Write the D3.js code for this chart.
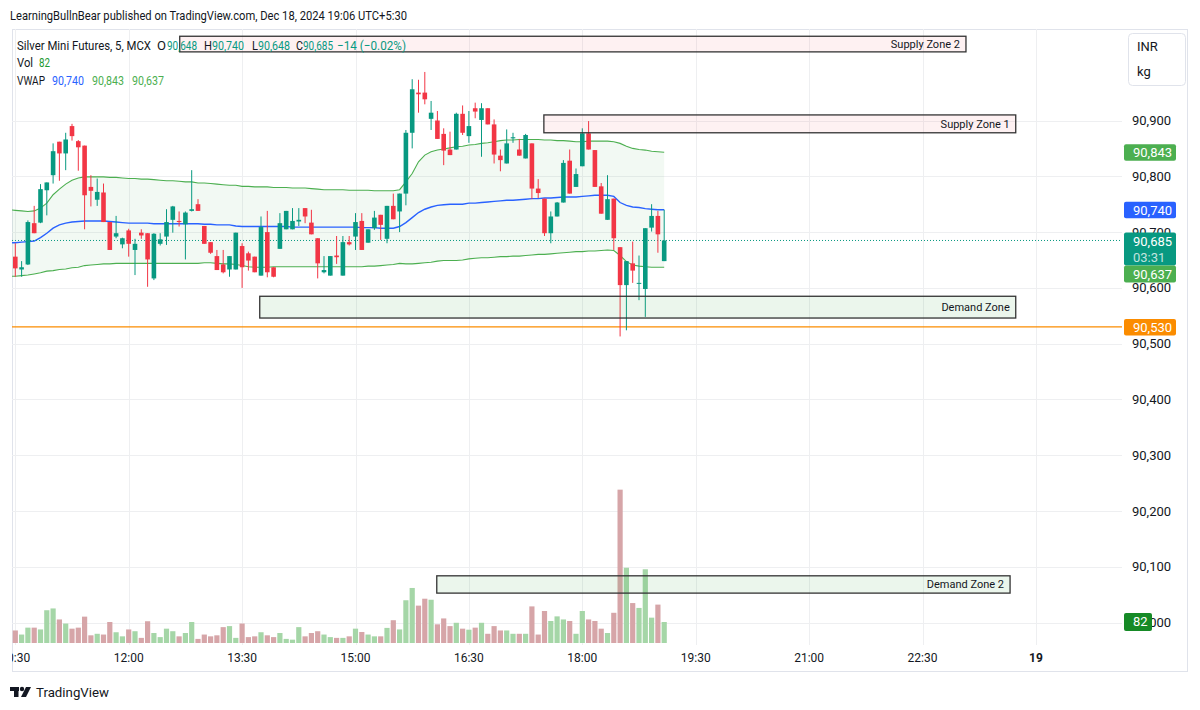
<!DOCTYPE html>
<html>
<head>
<meta charset="utf-8">
<script src="https://cdnjs.cloudflare.com/ajax/libs/d3/7.8.5/d3.min.js"></script>
<style>
    body { margin: 0; background: #fff; }
    svg { display: block; font-family: Roboto, "Noto Sans", sans-serif; }
</style>
</head>
<body>
<svg id="chart" width="1200" height="710"></svg>
<script>
// ---- data (5 min bars, Dec 18 2024, first bar = 10:30) ----
var open  = [90656,90633,90642,90716,90717,90775,90802,90862,90841,90890,90863,90855,90781,90758,90771,90718,90692,90678,90703,90668,
             90699,90698,90617,90679,90692,90722,90720,90714,90738,90750,90711,90682,90657,90642,90633,90633,90675,90662,90656,90622,
             90700,90637,90670,90705,90705,90719,90743,90717,90689,90628,90622,90658,90622,90682,90692,90720,90681,90707,90731,90688,
             90747,90737,90769,90878,90950,90950,90903,90900,90876,90848,90848,90912,90872,90922,90901,90922,90893,90837,90823,90868,
             90848,90832,90859,90778,90760,90698,90728,90753,90828,90781,90818,90877,90847,90782,90722,90760,90673,90605,90644,90608,
             90598,90708,90729,90648];
var high  = [90680,90648,90721,90747,90786,90789,90859,90862,90878,90894,90865,90855,90802,90796,90787,90718,90729,90690,90706,90688,
             90705,90698,90698,90698,90741,90747,90737,90737,90811,90759,90711,90682,90668,90668,90657,90699,90680,90665,90656,90728,
             90738,90637,90734,90738,90743,90743,90743,90740,90689,90657,90657,90693,90693,90693,90734,90734,90705,90738,90731,90747,
             90769,90769,90883,90974,90973,90987,90935,90917,90886,90880,90914,90927,90917,90932,90931,90922,90902,90848,90884,90878,
             90867,90876,90859,90795,90760,90737,90754,90829,90848,90814,90886,90899,90847,90788,90802,90760,90673,90648,90683,90658,
             90707,90750,90738,90740];
var low   = [90620,90620,90641,90698,90716,90730,90787,90792,90811,90864,90810,90705,90746,90747,90718,90668,90689,90671,90656,90623,
             90688,90602,90614,90676,90677,90699,90710,90651,90737,90738,90679,90661,90632,90626,90620,90633,90600,90631,90628,90622,
             90619,90619,90670,90705,90705,90711,90716,90696,90617,90626,90622,90643,90622,90676,90668,90668,90681,90704,90686,90680,
             90723,90700,90748,90850,90914,90929,90883,90867,90820,90838,90848,90874,90860,90904,90835,90893,90823,90809,90823,90860,
             90837,90832,90759,90761,90693,90680,90728,90753,90769,90781,90818,90848,90781,90733,90722,90668,90513,90524,90609,90578,
             90548,90701,90663,90648];
var close = [90635,90637,90718,90698,90777,90789,90845,90841,90866,90872,90852,90766,90774,90772,90718,90668,90698,90689,90679,90679,
             90694,90651,90697,90687,90718,90746,90718,90735,90741,90738,90679,90663,90632,90628,90657,90699,90637,90649,90628,90709,
             90628,90620,90716,90738,90720,90722,90728,90696,90644,90632,90657,90655,90682,90678,90718,90668,90705,90726,90713,90747,
             90723,90769,90878,90956,90947,90938,90914,90867,90846,90838,90912,90878,90890,90916,90922,90893,90839,90829,90859,90870,
             90837,90874,90778,90770,90698,90728,90753,90824,90769,90804,90877,90848,90781,90733,90759,90689,90605,90648,90631,90609,
             90707,90729,90696,90685];
var volume = [49,33,60,60,53,128,135,92,76,56,60,103,30,36,33,82,42,26,53,46,
              20,85,39,23,56,46,26,39,82,16,33,26,30,62,66,20,76,23,26,42,
              30,23,39,16,13,62,26,39,46,33,23,20,20,26,56,43,33,26,26,59,
              89,53,167,215,146,173,169,73,96,66,79,56,52,60,79,36,66,49,49,36,
              36,36,143,33,125,86,104,92,86,36,125,92,86,56,39,118,599,294,156,137,
              288,99,150,82];

// VWAP and bands, starting one bar before the first candle (10:25)
var vwap  = [90681,90681,90682,90683,90684,90690,90698,90707,90713,90716,90718,90719,90720,90720,90720,90720,90719,90718,90717,90716,90716,
             90716,90716,90715,90715,90715,90715,90715,90715,90715,90715,90714,90714,90713,90713,90713,90711,90710,90710,90710,90710,
             90710,90710,90710,90710,90709,90709,90709,90709,90709,90709,90709,90709,90709,90709,90709,90708,90708,90708,90707,90707,
             90707,90710,90717,90726,90735,90741,90745,90748,90749,90750,90750,90750,90752,90752,90753,90754,90755,90756,90757,90757,
             90758,90759,90760,90760,90761,90761,90762,90763,90763,90763,90764,90765,90766,90766,90766,90764,90753,90748,90745,90744,
             90742,90741,90740,90740];
var vwapUpper = [90740,90739,90738,90737,90738,90743,90752,90767,90777,90786,90793,90797,90799,90799,90799,90799,90798,90798,90797,90796,90796,
             90795,90795,90794,90793,90792,90792,90791,90790,90790,90788,90788,90787,90786,90785,90784,90784,90782,90782,90781,90781,
             90781,90780,90780,90780,90779,90779,90779,90778,90777,90776,90776,90776,90776,90775,90775,90775,90775,90774,90774,90774,
             90774,90776,90790,90805,90826,90838,90844,90847,90849,90851,90853,90854,90856,90857,90859,90860,90862,90864,90865,90865,
             90866,90866,90866,90866,90865,90865,90864,90864,90863,90862,90862,90863,90863,90863,90863,90862,90859,90854,90850,90848,
             90847,90845,90844,90843];
var vwapLower = [90621,90621,90622,90623,90625,90627,90630,90631,90633,90634,90636,90637,90640,90641,90642,90643,90643,90644,90644,90644,90644,
             90644,90644,90644,90644,90644,90644,90644,90644,90644,90644,90645,90645,90644,90643,90643,90642,90640,90638,90637,90637,
             90637,90638,90638,90638,90638,90638,90638,90638,90638,90638,90638,90638,90638,90638,90638,90638,90639,90639,90640,90641,
             90642,90644,90643,90643,90644,90645,90646,90648,90649,90649,90649,90650,90652,90653,90654,90654,90655,90656,90656,90657,
             90657,90658,90659,90660,90660,90661,90662,90663,90664,90665,90665,90666,90666,90667,90668,90667,90658,90647,90641,90639,
             90638,90637,90637,90637];

var timeTicks  = [0, 18, 36, 54, 72, 90, 108, 126, 144, 162];
var timeLabels = ['10:30', '12:00', '13:30', '15:00', '16:30', '18:00', '19:30', '21:00', '22:30', '19'];
var priceTicks = [90000, 90100, 90200, 90300, 90400, 90500, 90600, 90700, 90800, 90900];

var zoneNames  = ['Supply Zone 2', 'Supply Zone 1', 'Demand Zone', 'Demand Zone 2'];
var zoneKind   = ['supply', 'supply', 'demand', 'demand'];
var zoneTop    = [91051, 90910, 90585, 90084];
var zoneBottom = [91023, 90878, 90546, 90053];
var zoneFrom   = [26.1, 83.9, 38.8, 66.9];
var zoneTo     = [150.9, 158.8, 158.8, 157.9];
var levelLine  = 90530;

// ---- layout ----
var pane = {left: 12, right: 1122, top: 29, bottom: 645};
var UP = '#089981', DOWN = '#f23645';

var svg = d3.select('#chart');
var x = d3.scaleLinear().domain([0, 162]).range([15.3, 1035.9]);
var y = d3.scaleLinear().domain([89960, 91064]).range([pane.bottom, pane.top]);
var yVol = d3.scaleLinear().domain([0, 1000]).range([643, 387]);
var fmt = d3.format(',');

svg.append('rect').attr('width', 1200).attr('height', 710).attr('fill', '#fff');

var defs = svg.append('defs');
defs.append('clipPath').attr('id', 'paneClip')
    .append('rect')
    .attr('x', pane.left).attr('y', pane.top)
    .attr('width', pane.right - pane.left).attr('height', pane.bottom - pane.top);
defs.append('clipPath').attr('id', 'timeClip')
    .append('rect').attr('x', 12).attr('y', 645).attr('width', 1176).attr('height', 27);

// text squeezed to the width it has in the screenshot
function fitText(xx, yy, txt, width, color, size) {
    var t = svg.append('text').attr('x', xx).attr('y', yy)
        .attr('font-size', size || 13).attr('fill', color || '#131722').text(txt);
    if (width) t.attr('textLength', width).attr('lengthAdjust', 'spacingAndGlyphs');
    return t;
}

// header
fitText(10, 20, 'LearningBullnBear published on TradingView.com, Dec 18, 2024 19:06 UTC+5:30', 397);

// frame
svg.append('rect')
    .attr('x', 12.5).attr('y', 29.5).attr('width', 1175).attr('height', 642)
    .attr('fill', 'none').attr('stroke', '#e0e3eb');

var g = svg.append('g').attr('clip-path', 'url(#paneClip)');

// grid
g.selectAll('line.hgrid').data(priceTicks).enter().append('line')
    .attr('class', 'hgrid')
    .attr('x1', pane.left).attr('x2', pane.right)
    .attr('y1', function(d) { return Math.round(y(d)) + 0.5; })
    .attr('y2', function(d) { return Math.round(y(d)) + 0.5; })
    .attr('stroke', '#eeeff1');
g.selectAll('line.vgrid').data(timeTicks).enter().append('line')
    .attr('class', 'vgrid')
    .attr('x1', function(d) { return Math.round(x(d)) + 0.5; })
    .attr('x2', function(d) { return Math.round(x(d)) + 0.5; })
    .attr('y1', pane.top).attr('y2', pane.bottom)
    .attr('stroke', '#eeeff1');

// volume
g.append('g').selectAll('rect').data(volume).enter().append('rect')
    .attr('x', function(d, i) { return x(i) - 2.6; })
    .attr('width', 5.2)
    .attr('y', function(d) { return yVol(d); })
    .attr('height', function(d) { return yVol(0) - yVol(d); })
    .attr('fill', function(d, i) { return close[i] >= open[i] ? '#a5d6a7' : '#d6a5a8'; });

// VWAP band
var vx = function(d, i) { return x(i - 1); };
var band = d3.area().x(vx)
    .y0(function(d, i) { return y(vwapLower[i]); })
    .y1(function(d, i) { return y(vwapUpper[i]); });
g.append('path').datum(vwap).attr('d', band).attr('fill', 'rgba(76,175,80,0.07)');

var line = function(arr) {
    return d3.line().x(vx).y(function(d) { return y(d); })(arr);
};
g.append('path').attr('d', line(vwapUpper)).attr('fill', 'none').attr('stroke', '#4caf50').attr('stroke-width', 1.1);
g.append('path').attr('d', line(vwapLower)).attr('fill', 'none').attr('stroke', '#4caf50').attr('stroke-width', 1.1);
g.append('path').attr('d', line(vwap)).attr('fill', 'none').attr('stroke', '#2962ff').attr('stroke-width', 1.4);

// zones
zoneNames.forEach(function(name, i) {
    var x0 = x(zoneFrom[i]), x1 = x(zoneTo[i]);
    var y0 = y(zoneTop[i]), y1 = y(zoneBottom[i]);
    svg.append('rect')
        .attr('x', x0).attr('y', y0).attr('width', x1 - x0).attr('height', y1 - y0)
        .attr('fill', zoneKind[i] == 'supply' ? 'rgba(242,54,69,0.07)' : 'rgba(76,175,80,0.11)')
        .attr('stroke', '#333').attr('stroke-width', 1.3);
    svg.append('text')
        .attr('x', x1 - 6).attr('y', (y0 + y1) / 2).attr('dy', '0.35em')
        .attr('text-anchor', 'end').attr('font-size', 11).attr('fill', '#131722')
        .text(name);
});

// level line and current price
g.append('line')
    .attr('x1', pane.left).attr('x2', pane.right)
    .attr('y1', y(levelLine)).attr('y2', y(levelLine))
    .attr('stroke', '#fb8c00').attr('stroke-width', 1.2);
var last = close.length - 1;
g.append('line')
    .attr('x1', pane.left).attr('x2', pane.right)
    .attr('y1', y(close[last])).attr('y2', y(close[last]))
    .attr('stroke', UP).attr('stroke-dasharray', '1,2');

// candles
var cg = g.selectAll('g.candle').data(open).enter().append('g').attr('class', 'candle');
cg.append('line')
    .attr('x1', function(d, i) { return x(i); })
    .attr('x2', function(d, i) { return x(i); })
    .attr('y1', function(d, i) { return y(high[i]); })
    .attr('y2', function(d, i) { return y(low[i]); })
    .attr('stroke', function(d, i) { return close[i] >= open[i] ? UP : DOWN; });
cg.append('rect')
    .attr('x', function(d, i) { return x(i) - 2.3; })
    .attr('width', 4.6)
    .attr('y', function(d, i) { return y(Math.max(open[i], close[i])); })
    .attr('height', function(d, i) { return Math.max(1, Math.abs(y(open[i]) - y(close[i]))); })
    .attr('fill', function(d, i) { return close[i] >= open[i] ? UP : DOWN; });

// legend
fitText(17, 50, 'Silver Mini Futures, 5, MCX', 134);
fitText(157, 50, 'O', 9);
fitText(167, 50, fmt(open[last]), 30, UP);
fitText(204, 50, 'H', 8);
fitText(212, 50, fmt(high[last]), 32, UP);
fitText(252, 50, 'L', 6);
fitText(258, 50, fmt(low[last]), 32, UP);
fitText(296, 50, 'C', 7);
fitText(303, 50, fmt(close[last]), 30, UP);
fitText(337, 50, '\u221214 (\u22120.02%)', 69, UP);
fitText(17, 67, 'Vol', 16);
fitText(39, 67, String(volume[last]), 11, '#1e9a32');
fitText(17, 85, 'VWAP', 28);
fitText(52, 85, fmt(vwap[vwap.length - 1]), 32, '#2962ff');
fitText(92, 85, fmt(vwapUpper[vwapUpper.length - 1]), 32, '#4caf50');
fitText(132, 85, fmt(vwapLower[vwapLower.length - 1]), 32, '#4caf50');

// time axis
svg.append('g').attr('clip-path', 'url(#timeClip)')
    .selectAll('text').data(timeTicks).enter().append('text')
    .attr('x', function(d) { return x(d); }).attr('y', 662)
    .attr('text-anchor', 'middle').attr('font-size', 12).attr('fill', '#131722')
    .attr('font-weight', function(d, i) { return timeLabels[i] == '19' ? 'bold' : null; })
    .text(function(d, i) { return timeLabels[i]; });

// price axis
svg.selectAll('text.ptick').data(priceTicks).enter().append('text')
    .attr('class', 'ptick')
    .attr('x', 1132).attr('y', function(d) { return y(d); }).attr('dy', '0.35em')
    .attr('font-size', 13).attr('fill', '#131722')
    .text(function(d) { return fmt(d); });

function priceBox(top, h, w, color, lines) {
    svg.append('rect').attr('x', 1124).attr('y', top).attr('width', w).attr('height', h)
        .attr('rx', 2).attr('fill', color);
    lines.forEach(function(t, k) {
        svg.append('text').attr('x', 1133).attr('y', top + 8.5 + k * 16.5).attr('dy', '0.35em')
            .attr('font-size', 13).attr('fill', k == 0 ? '#fff' : 'rgba(255,255,255,0.75)').text(t);
    });
}
priceBox(y(vwapUpper[vwapUpper.length - 1]) - 8, 16.5, 52, '#4caf50', [fmt(vwapUpper[vwapUpper.length - 1])]);
priceBox(y(vwap[vwap.length - 1]) - 8, 16.5, 52, '#2962ff', [fmt(vwap[vwap.length - 1])]);
var curTop = y(close[last]) - 8;
priceBox(curTop, 33, 52, UP, [fmt(close[last]), '03:31']);
priceBox(curTop + 33, 17, 52, '#4caf50', [fmt(vwapLower[vwapLower.length - 1])]);
priceBox(y(levelLine) - 8, 16.5, 52, '#fb8c00', [fmt(levelLine)]);
priceBox(yVol(volume[last]) - 9, 18, 28, '#168a26', [String(volume[last])]);

// currency box
svg.append('rect').attr('x', 1128.5).attr('y', 33.5).attr('width', 57).attr('height', 52)
    .attr('rx', 4).attr('fill', '#fff').attr('stroke', '#e0e3eb');
svg.append('text').attr('x', 1137).attr('y', 51).attr('font-size', 13).attr('fill', '#131722').text('INR');
svg.append('text').attr('x', 1137).attr('y', 76).attr('font-size', 13).attr('fill', '#131722').text('kg');

// footer logo
var logo = svg.append('g').attr('fill', '#131722');
logo.append('rect').attr('x', 10).attr('y', 687).attr('width', 9).attr('height', 4);
logo.append('rect').attr('x', 14).attr('y', 687).attr('width', 4.5).attr('height', 10);
logo.append('circle').attr('cx', 22).attr('cy', 689).attr('r', 2.2);
logo.append('path').attr('d', 'M26,687 L31,687 L26,697 L21,697 Z');
fitText(36, 697, 'TradingView', 73);
</script>
</body>
</html>
